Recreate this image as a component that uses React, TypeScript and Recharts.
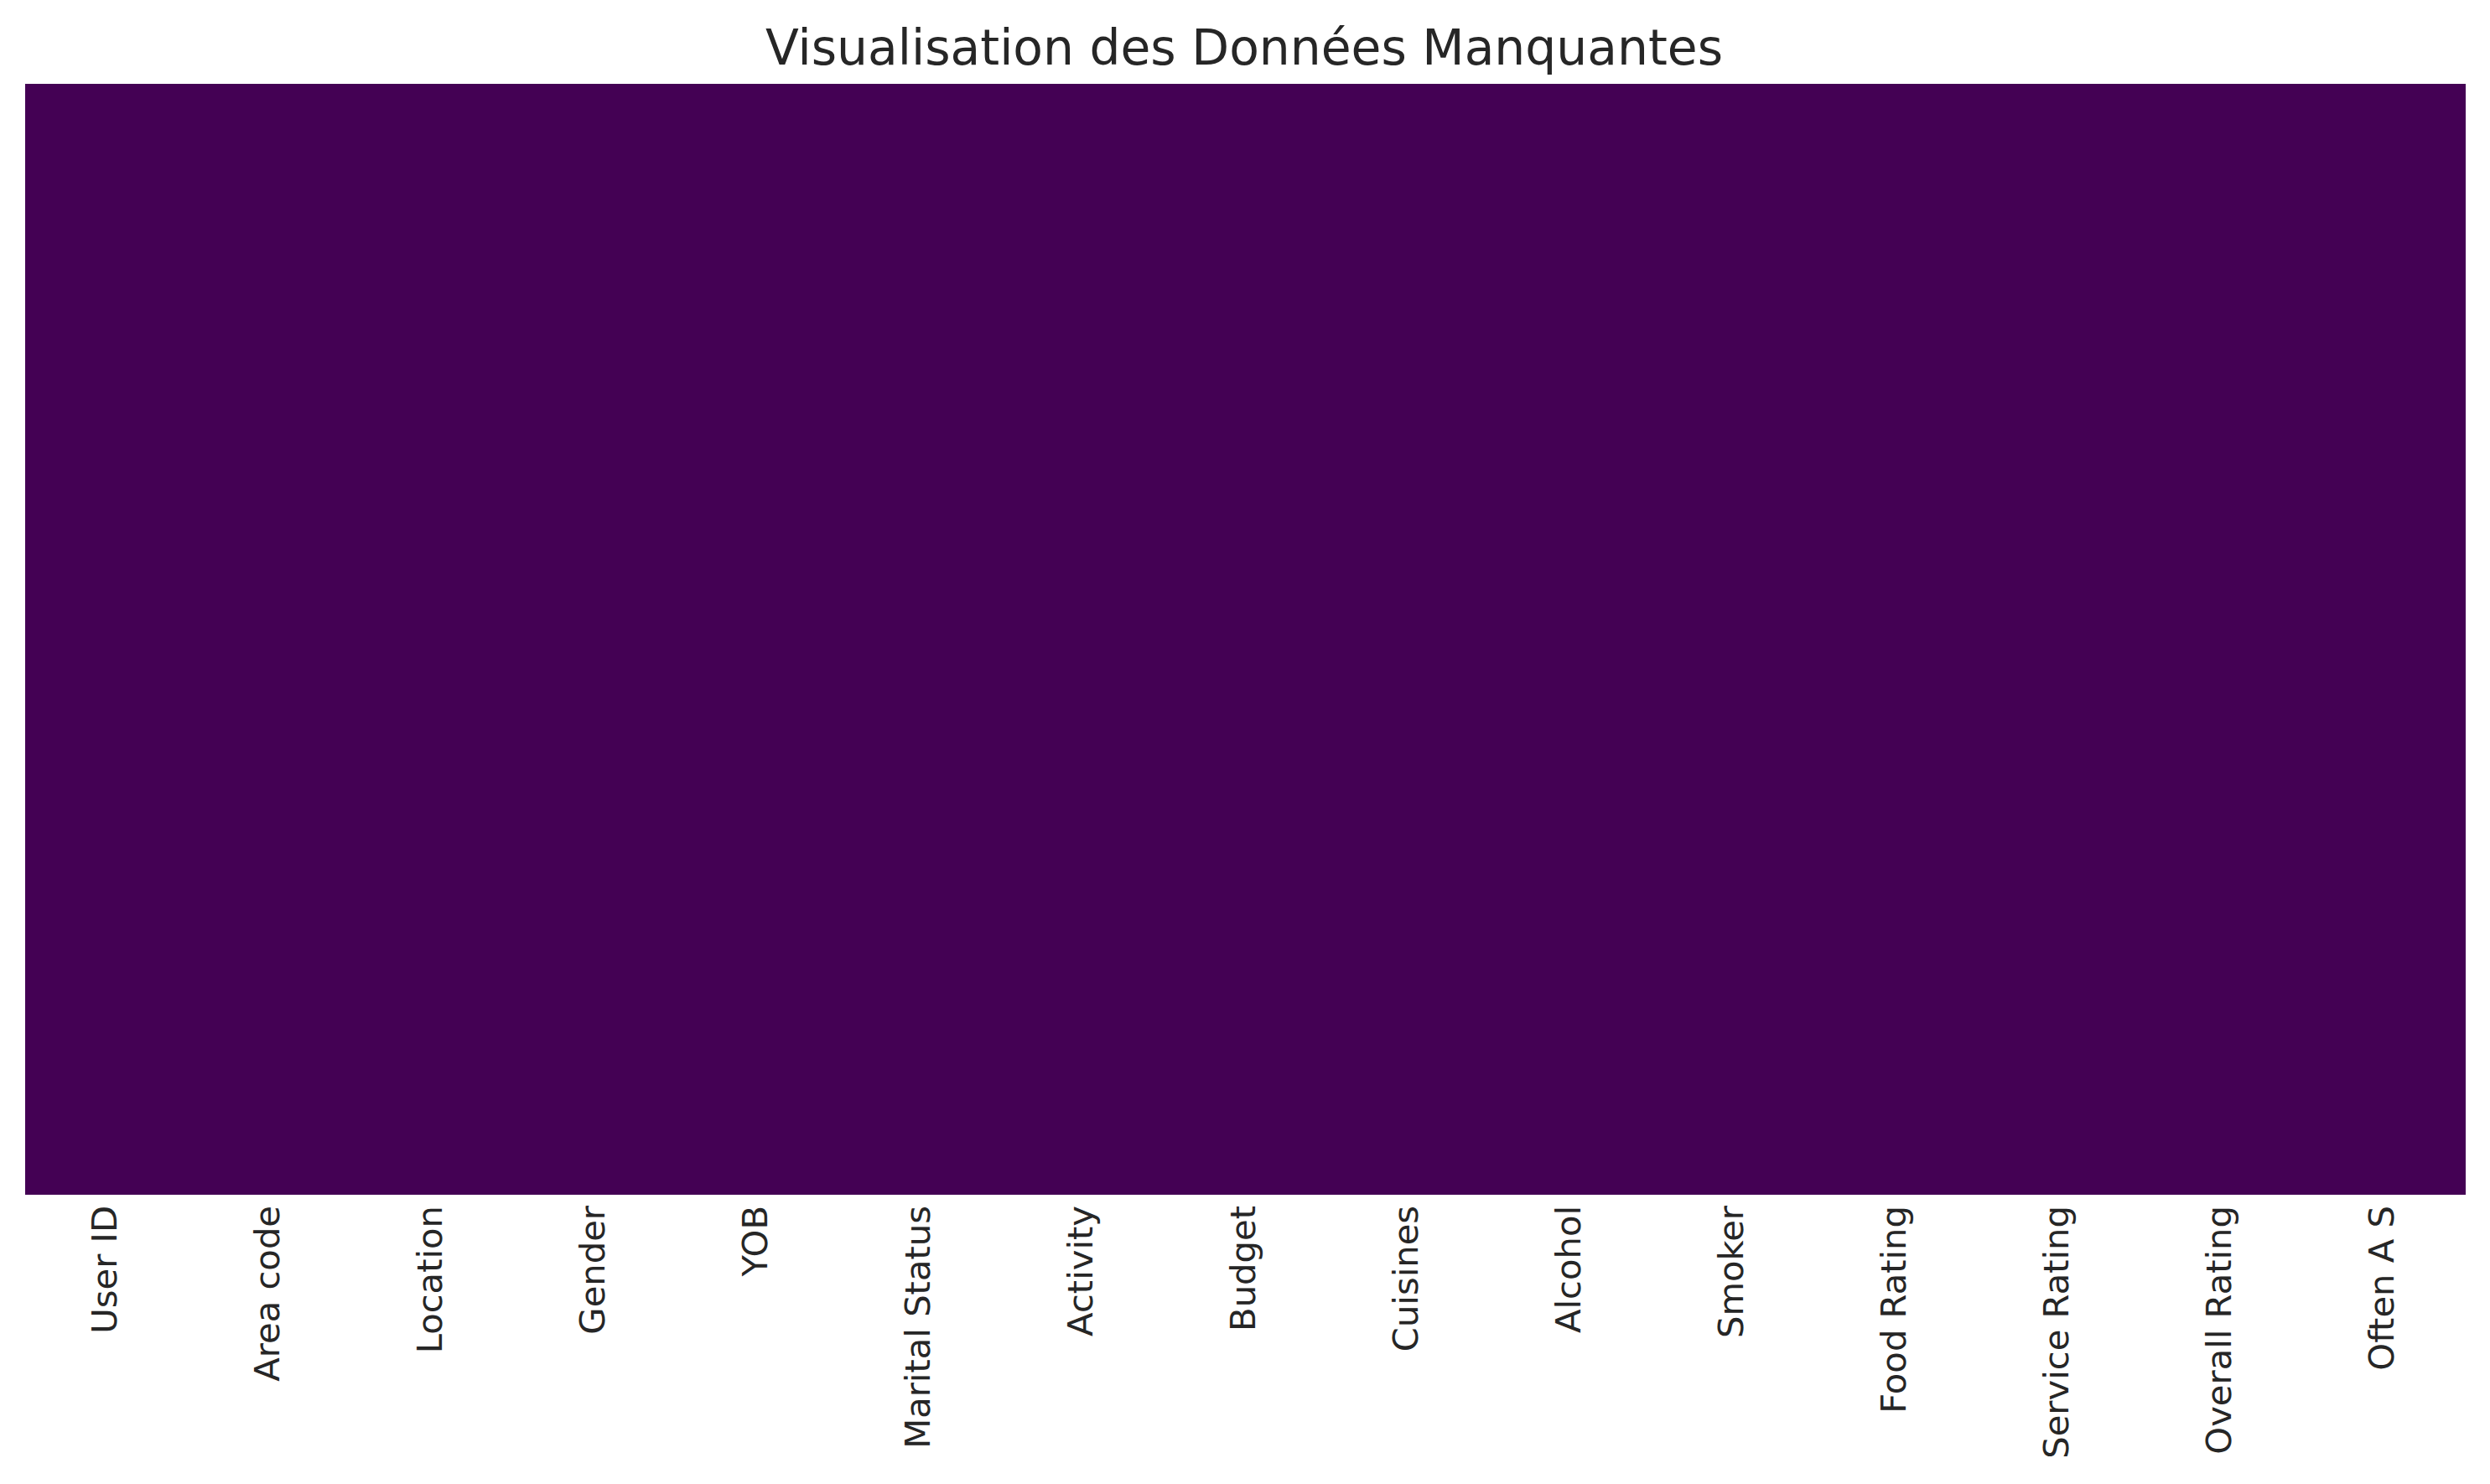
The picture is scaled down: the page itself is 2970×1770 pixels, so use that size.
import React from "react";
import { Bar, BarChart, Cell, XAxis, YAxis } from "recharts";

// columns of the dataframe, in plot order
const COLUMNS = [
  "User ID",
  "Area code",
  "Location",
  "Gender",
  "YOB",
  "Marital Status",
  "Activity",
  "Budget",
  "Cuisines",
  "Alcohol",
  "Smoker",
  "Food Rating",
  "Service Rating",
  "Overall Rating",
  "Often A S",
];

// share of missing rows per column (none are missing)
const MISSING_SHARE = [0, 0, 0, 0, 0, 0, 0, 0, 0, 0, 0, 0, 0, 0, 0];

// every column spans all rows of the frame
const ROW_SPAN = [1, 1, 1, 1, 1, 1, 1, 1, 1, 1, 1, 1, 1, 1, 1];

const VIRIDIS = ["#440154", "#3b528b", "#21918c", "#5ec962", "#fde725"];

const TITLE = "Visualisation des Données Manquantes";
const FONT = "DejaVu Sans, sans-serif";
const TEXT = "#262626";

const W = 2970;
const H = 1770;

function viridis(share: number) {
  const i = Math.round(Math.min(Math.max(share, 0), 1) * (VIRIDIS.length - 1));
  return VIRIDIS[i];
}

const data = COLUMNS.map((name, i) => ({
  name,
  rows: ROW_SPAN[i],
  missing: MISSING_SHARE[i],
}));

function RotatedTick(props: any) {
  const { x, y, payload } = props;
  return (
    <text
      x={0}
      y={0}
      transform={`translate(${x - 3},${y + 6}) rotate(-90)`}
      textAnchor="end"
      dominantBaseline="central"
      fontFamily={FONT}
      fontSize={41.7}
      fill={TEXT}
    >
      {payload.value}
    </text>
  );
}

export default function App() {
  return (
    <div
      style={{
        position: "absolute",
        left: 0,
        top: 0,
        width: W,
        height: H,
        background: "#ffffff",
      }}
    >
      <BarChart
        width={W}
        height={H}
        data={data}
        barCategoryGap={0}
        margin={{ top: 100, right: 30, left: 30, bottom: 6 }}
      >
        <XAxis
          dataKey="name"
          interval={0}
          height={340}
          axisLine={false}
          tickLine={false}
          tick={<RotatedTick />}
        />
        <YAxis hide domain={[0, 1]} />
        <Bar dataKey="rows" isAnimationActive={false} shapeRendering="crispEdges">
          {data.map((d, i) => (
            <Cell key={i} fill={viridis(d.missing)} stroke={viridis(d.missing)} strokeWidth={1} />
          ))}
        </Bar>
      </BarChart>
      <svg
        width={W}
        height={110}
        style={{ position: "absolute", left: 0, top: 0, pointerEvents: "none" }}
      >
        <text
          x={1484}
          y={77}
          textAnchor="middle"
          fontFamily={FONT}
          fontSize={58.3}
          fill={TEXT}
        >
          {TITLE}
        </text>
      </svg>
    </div>
  );
}
